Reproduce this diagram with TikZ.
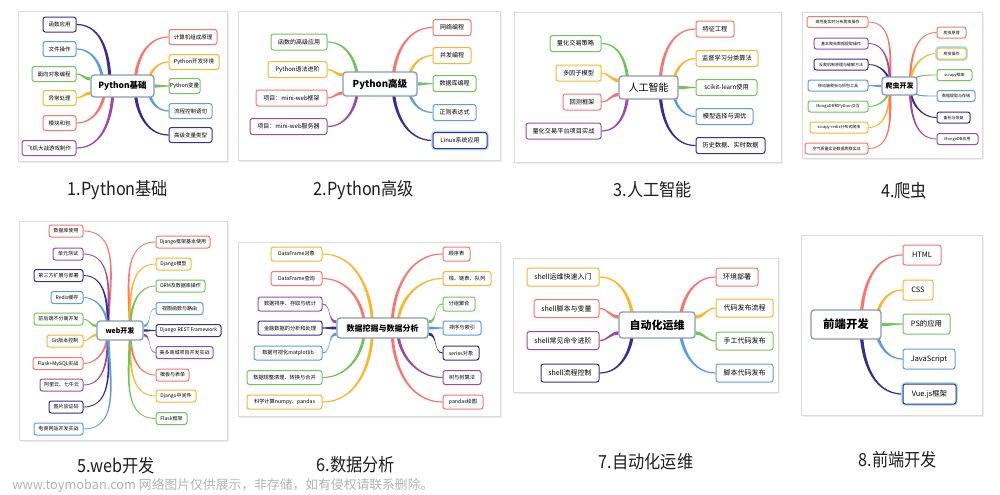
\documentclass[tikz,border=0pt]{standalone}
\usepackage{fontspec}
\setmainfont{Noto Sans CJK SC}
\newfontfamily\capfont[FakeStretch=0.9]{Noto Sans CJK SC}
\definecolor{colR}{HTML}{F8766D}
\definecolor{colY}{HTML}{FDB52B}
\definecolor{colG}{HTML}{72C45A}
\definecolor{colB}{HTML}{5C9CE6}
\definecolor{colI}{HTML}{3B2C93}
\definecolor{colP}{HTML}{9B4DA6}
\definecolor{colC}{HTML}{8D9BB0}
\definecolor{colS}{HTML}{A8E4F7}
\definecolor{colW}{HTML}{B4B4B4}
\pgfdeclarelayer{cards}
\pgfdeclarelayer{bg}
\pgfsetlayers{cards,bg,main}
\def\tw{0.3pt}
\def\Tw{0.8pt}
% left node, end approached from above
\newcommand\ribLd[4]{\fill[#1] ([yshift=\tw]#2.east) to[out=0,in=90] ([xshift=#4+\Tw]#3) -- ([xshift=#4-\Tw]#3) to[out=90,in=0] ([yshift=-\tw]#2.east) -- cycle;}
% left node, end approached from below
\newcommand\ribLu[4]{\fill[#1] ([yshift=\tw]#2.east) to[out=0,in=270] ([xshift=#4-\Tw]#3) -- ([xshift=#4+\Tw]#3) to[out=270,in=0] ([yshift=-\tw]#2.east) -- cycle;}
% left node, horizontal end
\newcommand\ribLh[4]{\fill[#1] ([yshift=\tw]#2.east) to[out=0,in=180] ([yshift=#4+\Tw]#3) -- ([yshift=#4-\Tw]#3) to[out=180,in=0] ([yshift=-\tw]#2.east) -- cycle;}
% right node, from above
\newcommand\ribRd[4]{\fill[#1] ([yshift=\tw]#2.west) to[out=180,in=90] ([xshift=#4-\Tw]#3) -- ([xshift=#4+\Tw]#3) to[out=90,in=180] ([yshift=-\tw]#2.west) -- cycle;}
% right node, from below
\newcommand\ribRu[4]{\fill[#1] ([yshift=\tw]#2.west) to[out=180,in=270] ([xshift=#4+\Tw]#3) -- ([xshift=#4-\Tw]#3) to[out=270,in=180] ([yshift=-\tw]#2.west) -- cycle;}
% right node, horizontal end
\newcommand\ribRh[4]{\fill[#1] ([yshift=\tw]#2.west) to[out=180,in=0] ([yshift=#4+\Tw]#3) -- ([yshift=#4-\Tw]#3) to[out=0,in=180] ([yshift=-\tw]#2.west) -- cycle;}
\begin{document}
\begin{tikzpicture}[x=0.5pt,y=0.5pt,
  card/.style={draw=black!14, fill=white, line width=0.4pt},
  shade/.style={fill=black!7, draw=none},
  box/.style={draw, fill=white, rounded corners=1.2pt, line width=0.5pt, inner sep=0pt, align=center},
  ctr/.style={draw=colC, fill=white, rounded corners=1.6pt, line width=0.7pt, inner sep=0pt, align=center},
  sel/.style={preaction={draw=colS, line width=1.8pt}},
  captext/.style={font=\capfont\fontsize{9}{10}\selectfont, inner sep=0pt, text=black!88}]
\useasboundingbox (0,0) rectangle (1000,-494);
\begin{pgfonlayer}{cards}
\fill[white] (0,0) rectangle (1000,-494);
\foreach \a/\b/\c/\d in {18/11/227/161, 238/11/500/160, 514/12/781/162, 802/12/982/158, 19/221/227/440, 238/242/500/416, 513/258/778/392, 801/235/982/415}{
  \fill[shade] (\a+1.5,-\b-1.5) rectangle (\c+1.5,-\d-1.5);
  \draw[card] (\a,-\b) rectangle (\c,-\d);
}
\end{pgfonlayer}

% ---------- Panel 1 ----------
\begin{scope}[font=\fontsize{2.75}{3}\selectfont, every node/.append style={minimum height=7.5pt}]
\node[ctr,minimum width=31.5pt,minimum height=11pt,font=\fontsize{4.25}{5}\selectfont\bfseries] (aC) at (122.5,-86) {Python基础};
\node[box,draw=colI,minimum width=16.5pt] (aL1) at (59.5,-24.5) {函数应用};
\node[box,draw=colB,minimum width=16.5pt] (aL2) at (59.5,-49) {文件操作};
\node[box,draw=colG,minimum width=22pt] (aL3) at (54,-74) {面向对象编程};
\node[box,draw=colY,minimum width=16.5pt] (aL4) at (59.5,-98) {异常处理};
\node[box,draw=colR,minimum width=16.5pt] (aL5) at (59.5,-123) {模块和包};
\node[box,draw=colP,minimum width=27pt] (aL6) at (49,-148) {飞机大战游戏制作};
\node[box,draw=colR,minimum width=24pt] (aR1) at (193,-37) {计算机组成原理};
\node[box,draw=colY,minimum width=25pt] (aR2) at (194,-62) {Python开发环境};
\node[box,draw=colG,minimum width=15.5pt] (aR3) at (184.5,-86) {Python变量};
\node[box,draw=colB,minimum width=21.5pt] (aR4) at (190.5,-111) {流程控制语句};
\node[box,draw=colI,minimum width=21.5pt] (aR5) at (190.5,-135) {高级变量类型};
\end{scope}
\begin{pgfonlayer}{bg}
\ribLd{colI}{aL1}{aC.center}{-6.25pt}
\ribLd{colB}{aL2}{aC.center}{-9.75pt}
\ribLh{colG}{aL3}{aC.west}{3.5pt}
\ribLh{colY}{aL4}{aC.west}{-3.5pt}
\ribLu{colR}{aL5}{aC.center}{-8.75pt}
\ribLu{colP}{aL6}{aC.center}{-4.75pt}
\ribRd{colR}{aR1}{aC.center}{6.25pt}
\ribRd{colY}{aR2}{aC.center}{12.75pt}
\ribRh{colG}{aR3}{aC.east}{0pt}
\ribRu{colB}{aR4}{aC.center}{12.75pt}
\ribRu{colI}{aR5}{aC.center}{6.25pt}
\end{pgfonlayer}

% ---------- Panel 2 ----------
\begin{scope}[font=\fontsize{3}{3.5}\selectfont, every node/.append style={minimum height=8pt}]
\node[ctr,minimum width=37pt,minimum height=12pt,font=\fontsize{4.8}{5.5}\selectfont\bfseries] (bC) at (380,-84) {Python高级};
\node[box,draw=colG,minimum width=28pt] (bL1) at (299,-42) {函数的高级应用};
\node[box,draw=colY,minimum width=29.5pt] (bL2) at (297.5,-69.5) {Python语法进阶};
\node[box,draw=colR,minimum width=35.5pt] (bL3) at (291.5,-98) {项目：mini-web框架};
\node[box,draw=colP,minimum width=38.5pt] (bL4) at (288.5,-126.5) {项目：mini-web服务器};
\node[box,draw=colR,minimum width=19pt] (bR1) at (452,-27.5) {网络编程};
\node[box,draw=colY,minimum width=19pt] (bR2) at (452,-55.5) {并发编程};
\node[box,draw=colG,minimum width=21.5pt] (bR3) at (454.5,-83.5) {数据库编程};
\node[box,draw=colB,minimum width=21.5pt] (bR4) at (454.5,-112.5) {正则表达式};
\node[box,sel,draw=colI,minimum width=27pt] (bR5) at (460,-140.5) {Linux系统应用};
\end{scope}
\begin{pgfonlayer}{bg}
\ribLd{colG}{bL1}{bC.center}{-11pt}
\ribLh{colY}{bL2}{bC.west}{4.5pt}
\ribLh{colR}{bL3}{bC.west}{-4.5pt}
\ribLu{colP}{bL4}{bC.center}{-11pt}
\ribRd{colR}{bR1}{bC.center}{6.5pt}
\ribRd{colY}{bR2}{bC.center}{14pt}
\ribRh{colG}{bR3}{bC.east}{0pt}
\ribRu{colB}{bR4}{bC.center}{14pt}
\ribRu{colI}{bR5}{bC.center}{6.5pt}
\end{pgfonlayer}

% ---------- Panel 3 ----------
\begin{scope}[font=\fontsize{3.1}{3.6}\selectfont, every node/.append style={minimum height=8pt}]
\node[ctr,minimum width=29.5pt,minimum height=11.5pt,font=\fontsize{5}{6}\selectfont] (cC) at (648.5,-87.5) {人工智能};
\node[box,draw=colG,minimum width=25.5pt] (cL1) at (575.5,-43.5) {量化交易策略};
\node[box,draw=colY,minimum width=22.5pt] (cL2) at (578.5,-73) {多因子模型};
\node[box,draw=colR,minimum width=19pt] (cL3) at (582,-102) {回测框架};
\node[box,draw=colP,minimum width=37.5pt] (cL4) at (563.5,-131) {量化交易平台项目实战};
\node[box,draw=colR,minimum width=19pt] (cR1) at (715,-29) {特征工程};
\node[box,draw=colY,minimum width=31pt] (cR2) at (727,-58.5) {监督学习分类算法};
\node[box,draw=colG,minimum width=30.5pt] (cR3) at (726.5,-87.5) {scikit-learn使用};
\node[box,draw=colB,minimum width=28.5pt] (cR4) at (724.5,-116.5) {模型选择与调优};
\node[box,draw=colI,minimum width=34.5pt] (cR5) at (730.5,-145.5) {历史数据、实时数据};
\end{scope}
\begin{pgfonlayer}{bg}
\ribLd{colG}{cL1}{cC.center}{-10.25pt}
\ribLh{colY}{cL2}{cC.west}{3.5pt}
\ribLh{colR}{cL3}{cC.west}{-3.5pt}
\ribLu{colP}{cL4}{cC.center}{-10.25pt}
\ribRd{colR}{cR1}{cC.center}{5.75pt}
\ribRd{colY}{cR2}{cC.center}{12.25pt}
\ribRh{colG}{cR3}{cC.east}{0pt}
\ribRu{colB}{cR4}{cC.center}{12.25pt}
\ribRu{colI}{cR5}{cC.center}{5.75pt}
\end{pgfonlayer}

% ---------- Panel 4 ----------
\def\tw{0.22pt}
\def\Tw{0.6pt}
\begin{scope}[font=\fontsize{2}{2.4}\selectfont, every node/.append style={minimum height=5.5pt}]
\node[ctr,minimum width=17.5pt,minimum height=9pt,font=\fontsize{3.5}{4}\selectfont\bfseries] (dC) at (899.5,-86) {爬虫开发};
\node[box,draw=colR,minimum width=30.5pt] (dL1) at (837.5,-22) {高性能实时分布爬虫操作};
\node[box,draw=colP,minimum width=27pt] (dL2) at (841,-43.5) {基本爬虫数据提取操作};
\node[box,draw=colI,minimum width=27pt] (dL3) at (841,-64.5) {反爬机制原理与破解方法};
\node[box,draw=colB,minimum width=30pt] (dL4) at (838,-85.5) {移动端爬虫与抓包工具};
\node[box,draw=colG,minimum width=30pt] (dL5) at (838,-106.5) {MongoDB和Python交互};
\node[box,draw=colY,minimum width=29pt] (dL6) at (839,-127.5) {scrapy-redis分布式爬虫};
\node[box,draw=colR,minimum width=31.5pt] (dL7) at (836.5,-148.5) {空气质量实测数据爬取实战};
\node[box,draw=colR,minimum width=14.5pt] (dR1) at (951.5,-32.5) {爬虫原理};
\node[box,sel,draw=colY,minimum width=14.5pt] (dR2) at (951.5,-53.5) {爬虫操作};
\node[box,draw=colG,minimum width=17.5pt] (dR3) at (954.5,-75) {scrapy框架};
\node[box,draw=colB,minimum width=19pt] (dR4) at (956,-96) {数据提取与存储};
\node[box,draw=colI,minimum width=16.5pt] (dR5) at (953.5,-117.5) {备份与恢复};
\node[box,draw=colP,minimum width=20.5pt] (dR6) at (957.5,-139) {MongoDB应用};
\begin{pgfonlayer}{bg}
\ribLd{colR}{dL1}{dC.center}{-4.75pt}
\ribLd{colP}{dL2}{dC.center}{-4.75pt}
\ribLd{colI}{dL3}{dC.center}{-4.75pt}
\ribLh{colB}{dL4}{dC.west}{0pt}
\ribLu{colG}{dL5}{dC.center}{-4.75pt}
\ribLu{colY}{dL6}{dC.center}{-4.75pt}
\ribLu{colR}{dL7}{dC.center}{-4.75pt}
\ribRd{colR}{dR1}{dC.center}{5.25pt}
\ribRd{colY}{dR2}{dC.center}{5.25pt}
\ribRd{colG}{dR3}{dC.center}{5.25pt}
\ribRu{colB}{dR4}{dC.center}{5.25pt}
\ribRu{colI}{dR5}{dC.center}{5.25pt}
\ribRu{colP}{dR6}{dC.center}{5.25pt}
\end{pgfonlayer}
\end{scope}

% ---------- Panel 5 ----------
\begin{scope}[font=\fontsize{2.5}{3}\selectfont, every node/.append style={minimum height=6pt}]
\node[ctr,minimum width=23pt,minimum height=9.5pt,font=\fontsize{3.5}{4}\selectfont\bfseries] (eC) at (120,-330.5) {web开发};
\node[box,draw=colR,minimum width=17pt] (eL1) at (66,-231) {数据库使用};
\node[box,draw=colP,minimum width=15pt] (eL2) at (68,-254) {单元测试};
\node[box,draw=colI,minimum width=24.5pt] (eL3) at (58.5,-275.5) {第三方扩展与部署};
\node[box,draw=colB,minimum width=16pt] (eL4) at (67,-297.5) {Redis缓存};
\node[box,draw=colG,minimum width=24.5pt] (eL5) at (58.5,-319) {前后端不分离开发};
\node[box,draw=colY,minimum width=18pt] (eL6) at (65,-341) {Git版本控制};
\node[box,draw=colR,minimum width=25pt] (eL7) at (58,-363.5) {Flask+MySQL实战};
\node[box,draw=colP,minimum width=21.5pt] (eL8) at (61.5,-385) {阿里云、七牛云};
\node[box,draw=colI,minimum width=17pt] (eL9) at (66,-407) {图片验证码};
\node[box,draw=colB,minimum width=24.5pt] (eL10) at (58.5,-429) {电商网站开发实战};
\node[box,draw=colR,minimum width=27pt] (eR1) at (183,-242) {Django框架基本使用};
\node[box,draw=colY,minimum width=17.5pt] (eR2) at (173.5,-264) {Django模型};
\node[box,draw=colG,minimum width=24.5pt] (eR3) at (180.5,-286) {ORM及数据库操作};
\node[box,draw=colB,minimum width=23.5pt] (eR4) at (179.5,-308.5) {视图函数与路由};
\node[box,draw=colI,minimum width=32.5pt] (eR5) at (188.5,-330.5) {Django REST Framework};
\node[box,draw=colP,minimum width=28.5pt] (eR6) at (184.5,-352.5) {美多商城项目开发实战};
\node[box,draw=colR,minimum width=16.5pt] (eR7) at (172.5,-375) {模板与表单};
\node[box,draw=colY,minimum width=20pt] (eR8) at (176,-396) {Django中间件};
\node[box,draw=colG,minimum width=15.5pt] (eR9) at (171.5,-418.5) {Flask框架};
\begin{pgfonlayer}{bg}
\ribLd{colR}{eL1}{eC.center}{-6pt}
\ribLd{colP}{eL2}{eC.center}{-6pt}
\ribLd{colI}{eL3}{eC.center}{-6pt}
\ribLd{colB}{eL4}{eC.center}{-6pt}
\ribLh{colG}{eL5}{eC.west}{2.25pt}
\ribLh{colY}{eL6}{eC.west}{-2.25pt}
\ribLu{colR}{eL7}{eC.center}{-6pt}
\ribLu{colP}{eL8}{eC.center}{-6pt}
\ribLu{colI}{eL9}{eC.center}{-6pt}
\ribLu{colB}{eL10}{eC.center}{-6pt}
\ribRd{colR}{eR1}{eC.center}{5pt}
\ribRd{colY}{eR2}{eC.center}{5pt}
\ribRd{colG}{eR3}{eC.center}{5pt}
\ribRh{colB}{eR4}{eC.east}{2.25pt}
\ribRh{colI}{eR5}{eC.east}{0pt}
\ribRh{colP}{eR6}{eC.east}{-2.25pt}
\ribRu{colR}{eR7}{eC.center}{5pt}
\ribRu{colY}{eR8}{eC.center}{5pt}
\ribRu{colG}{eR9}{eC.center}{5pt}
\end{pgfonlayer}
\end{scope}

% ---------- Panel 6 ----------
\def\tw{0.28pt}
\def\Tw{0.75pt}
\begin{scope}[font=\fontsize{2.6}{3}\selectfont, every node/.append style={minimum height=7pt}]
\node[ctr,minimum width=45.5pt,minimum height=10pt,font=\fontsize{4}{5}\selectfont\bfseries] (fC) at (382.5,-328) {数据挖掘与数据分析};
\node[box,draw=colY,minimum width=25.5pt] (fL1) at (296.5,-254) {DataFrame对象};
\node[box,draw=colR,minimum width=25.5pt] (fL2) at (296.5,-278.5) {DataFrame查询};
\node[box,draw=colP,minimum width=32pt] (fL3) at (290,-304) {数据排序、存取与统计};
\node[box,draw=colI,minimum width=32pt] (fL4) at (290,-328) {金融数据的分析和处理};
\node[box,draw=colB,minimum width=34pt] (fL5) at (288,-353) {数据可视化matplotlib};
\node[box,draw=colG,minimum width=37.5pt] (fL6) at (284.5,-377.5) {数据规整清理、转换与合并};
\node[box,draw=colY,minimum width=37.5pt] (fL7) at (284.5,-402) {科学计算numpy、pandas};
\node[box,draw=colR,minimum width=13.5pt] (fR1) at (456.5,-254) {顺序表};
\node[box,draw=colY,minimum width=24pt] (fR2) at (467,-278.5) {栈、链表、队列};
\node[box,draw=colG,minimum width=16pt] (fR3) at (459,-304) {分组聚合};
\node[box,draw=colB,minimum width=19pt] (fR4) at (462,-328) {排序与索引};
\node[box,draw=colI,minimum width=18pt] (fR5) at (461,-353) {series对象};
\node[box,draw=colP,minimum width=19pt] (fR6) at (462,-377.5) {树与树算法};
\node[box,draw=colR,minimum width=20pt] (fR7) at (463,-402) {pandas绘图};
\end{scope}
\begin{pgfonlayer}{bg}
\ribLd{colY}{fL1}{fC.center}{-5pt}
\ribLd{colR}{fL2}{fC.center}{-9pt}
\ribLh{colP}{fL3}{fC.west}{3pt}
\ribLh{colI}{fL4}{fC.west}{0pt}
\ribLh{colB}{fL5}{fC.west}{-3pt}
\ribLu{colG}{fL6}{fC.center}{-9pt}
\ribLu{colY}{fL7}{fC.center}{-5pt}
\ribRd{colR}{fR1}{fC.center}{4.75pt}
\ribRd{colY}{fR2}{fC.center}{7.5pt}
\ribRh{colG}{fR3}{fC.east}{3pt}
\ribRh{colB}{fR4}{fC.east}{0pt}
\ribRh{colI}{fR5}{fC.east}{-3pt}
\ribRu{colP}{fR6}{fC.center}{7.5pt}
\ribRu{colR}{fR7}{fC.center}{4.75pt}
\end{pgfonlayer}

% ---------- Panel 7 ----------
\def\tw{0.3pt}
\def\Tw{0.85pt}
\begin{scope}[font=\fontsize{3.5}{4}\selectfont, every node/.append style={minimum height=9pt}]
\node[ctr,minimum width=38pt,minimum height=13pt,font=\fontsize{5.5}{6.5}\selectfont\bfseries] (gC) at (657,-325) {自动化运维};
\node[box,draw=colY,minimum width=36pt] (gL1) at (563,-277) {shell运维快速入门};
\node[box,draw=colR,minimum width=32.5pt] (gL2) at (566.5,-308.5) {shell脚本与变量};
\node[box,draw=colP,minimum width=36pt] (gL3) at (563,-340.5) {shell常见命令进阶};
\node[box,draw=colI,minimum width=29pt] (gL4) at (570,-373) {shell流程控制};
\node[box,draw=colR,minimum width=21pt] (gR1) at (737,-277) {环境部署};
\node[box,draw=colY,minimum width=28.5pt] (gR2) at (744.5,-308) {代码发布流程};
\node[box,draw=colG,minimum width=28.5pt] (gR3) at (744.5,-341) {手工代码发布};
\node[box,draw=colB,minimum width=28.5pt] (gR4) at (744.5,-373) {脚本代码发布};
\end{scope}
\begin{pgfonlayer}{bg}
\ribLd{colY}{gL1}{gC.center}{-12pt}
\ribLh{colR}{gL2}{gC.west}{4pt}
\ribLh{colP}{gL3}{gC.west}{-4pt}
\ribLu{colI}{gL4}{gC.center}{-12pt}
\ribRd{colR}{gR1}{gC.center}{11.5pt}
\ribRh{colY}{gR2}{gC.east}{4pt}
\ribRh{colG}{gR3}{gC.east}{-4pt}
\ribRu{colB}{gR4}{gC.center}{11.5pt}
\end{pgfonlayer}

% ---------- Panel 8 ----------
\begin{scope}[font=\fontsize{3.7}{4.2}\selectfont, every node/.append style={minimum height=10pt}]
\node[ctr,minimum width=35pt,minimum height=14.5pt,font=\fontsize{5.7}{6.5}\selectfont\bfseries] (hC) at (846,-324.5) {前端开发};
\node[box,draw=colR,minimum width=19pt] (hR1) at (922,-255) {HTML};
\node[box,draw=colY,minimum width=15pt] (hR2) at (918,-290) {CSS};
\node[box,draw=colG,minimum width=23.5pt] (hR3) at (926.5,-324) {PS的应用};
\node[box,draw=colB,minimum width=26pt] (hR4) at (929,-359) {JavaScript};
\node[box,sel,draw=colI,minimum width=26.5pt] (hR5) at (929.5,-394) {Vue.js框架};
\end{scope}
\begin{pgfonlayer}{bg}
\ribRd{colR}{hR1}{hC.center}{7.5pt}
\ribRd{colY}{hR2}{hC.center}{15pt}
\ribRh{colG}{hR3}{hC.east}{0pt}
\ribRu{colB}{hR4}{hC.center}{15pt}
\ribRu{colI}{hR5}{hC.center}{7.5pt}
\end{pgfonlayer}

% ---------- Captions ----------
\node[captext] (t1) at (118,-190) {1.Python基础};
\node[captext] (t2) at (364,-190) {2.Python高级};
\node[captext] (t3) at (653,-190) {3.人工智能};
\node[captext] (t4) at (904,-191) {4.爬虫};
\node[captext] (t5) at (116,-466) {5.web开发};
\node[captext] (t6) at (356,-465) {6.数据分析};
\node[captext] (t7) at (646,-462) {7.自动化运维};
\node[captext] (t8) at (898,-460) {8.前端开发};
\node[anchor=west, inner sep=0pt, text=colW, font=\fontsize{6.4}{7}\selectfont] (wm) at (12,-486) {www.toymoban.com 网络图片仅供展示，非存储，如有侵权请联系删除。};
\end{tikzpicture}
\end{document}
